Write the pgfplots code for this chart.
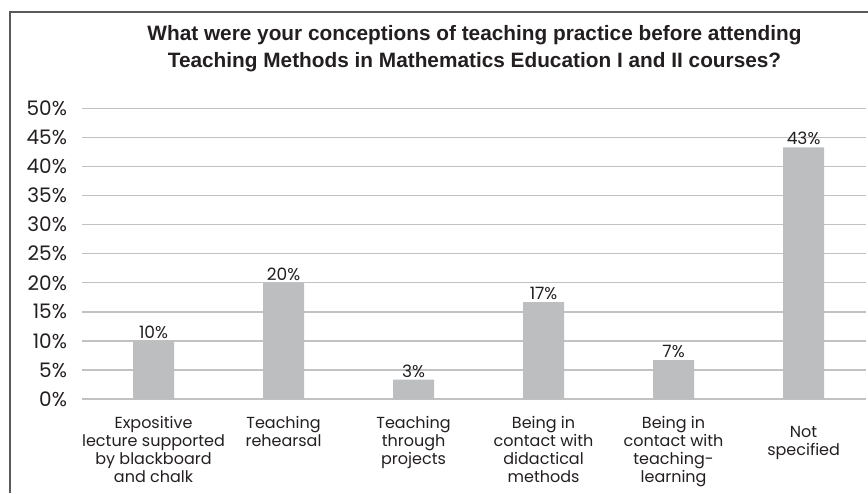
\documentclass[border=0pt]{standalone}
\usepackage{pgfplots}
\pgfplotsset{compat=1.18}
\usepackage{fontspec}
\setmainfont{Poppins}
\newfontfamily\titlefont{Liberation Sans}
\definecolor{bargray}{RGB}{188,190,192}
\definecolor{gridgray}{RGB}{194,194,194}
\definecolor{txt}{RGB}{35,31,32}
\definecolor{framec}{RGB}{90,90,90}
\begin{document}
\begin{tikzpicture}[x=1pt,y=1pt]
\path[use as bounding box] (0pt,0pt) rectangle (434pt,246.5pt);
\draw[framec, line width=0.8pt] (5pt,0pt) -- (5pt,240.5pt) -- (434pt,240.5pt);
\node[font=\titlefont\bfseries\fontsize{10.4}{13.5}\selectfont, align=center, text=txt] at (237.25pt,222.25pt)
  {What were your conceptions of teaching practice before attending\\Teaching Methods in Mathematics Education I and II courses?};
\begin{axis}[
  at={(41pt,47pt)}, anchor=south west, scale only axis,
  width=392pt, height=145.25pt,
  xmin=-0.55, xmax=5.48, ymin=0, ymax=50,
  ytick={0,5,...,50},
  xtick={0,1,2,3,4,5},
  xticklabels={{Expositive\\lecture supported\\by blackboard\\and chalk},
               {Teaching\\rehearsal},
               {Teaching\\through\\projects},
               {Being in\\contact with\\didactical\\methods},
               {Being in\\contact with\\teaching-\\learning},
               {\rule{0pt}{10.5pt}Not\\specified}},
  xticklabel style={align=center, anchor=north, font=\fontsize{8}{9}\selectfont, text=txt, yshift=-5pt},
  yticklabel={\pgfmathprintnumber{\tick}\%},
  yticklabel style={font=\fontsize{10}{11}\selectfont, text=txt, xshift=-4pt},
  /pgf/number format/assume math mode=true,
  axis line style={draw=none},
  major tick length=0pt,
  ymajorgrids, grid style={gridgray, line width=0.65pt},
  ybar, bar width=20.5pt,
  nodes near coords={\pgfmathprintnumber[fixed,precision=0]{\pgfplotspointmeta}\%},
  nodes near coords style={font=\fontsize{8.5}{9}\selectfont, text=txt, inner sep=1pt},
  clip=false,
]
\addplot[fill=bargray, draw=none] coordinates {(0,10) (1,20) (2,3.33) (3,16.67) (4,6.67) (5,43.33)};
\end{axis}
\end{tikzpicture}
\end{document}
